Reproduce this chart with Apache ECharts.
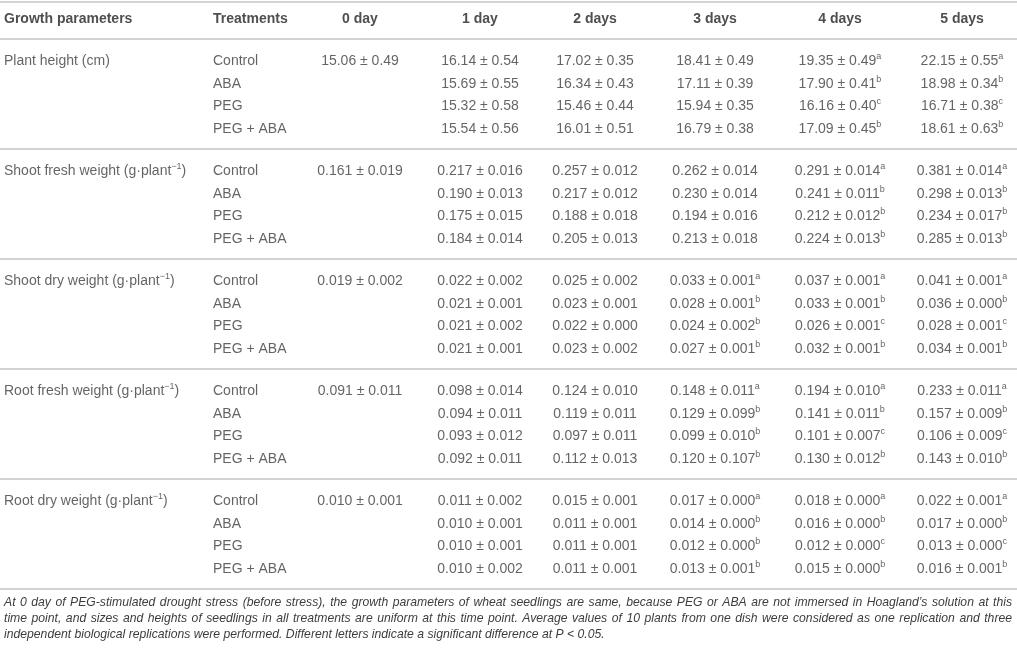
<!DOCTYPE html>
<html>
<head>
<meta charset="utf-8">
<script src="https://cdn.jsdelivr.net/npm/echarts@6/dist/echarts.min.js"></script>
<style>
  html, body { margin: 0; padding: 0; background: #fff; }
  #tbl { width: 1017px; height: 648px; }
</style>
</head>
<body>
<div id="tbl"></div>
<script>
// column headings
var HEADERS = ['Growth parameters', 'Treatments', '0 day', '1 day', '2 days', '3 days', '4 days', '5 days'];
var TREATMENTS = ['Control', 'ABA', 'PEG', 'PEG + ABA'];
var PARAM_NAMES = ['Plant height (cm)', 'Shoot fresh weight (g·plant', 'Shoot dry weight (g·plant', 'Root fresh weight (g·plant', 'Root dry weight (g·plant'];
var PARAM_SUP = ['', '−1', '−1', '−1', '−1'];
var DECIMALS = [2, 3, 3, 3, 3];

// 0 day (before stress), one value per parameter
var DAY0_MEAN = [15.06, 0.161, 0.019, 0.091, 0.010];
var DAY0_SD = [0.49, 0.019, 0.002, 0.011, 0.001];

// days 1..5, rows = Control, ABA, PEG, PEG + ABA
var HEIGHT_MEAN = [[16.14, 17.02, 18.41, 19.35, 22.15], [15.69, 16.34, 17.11, 17.90, 18.98], [15.32, 15.46, 15.94, 16.16, 16.71], [15.54, 16.01, 16.79, 17.09, 18.61]];
var HEIGHT_SD = [[0.54, 0.35, 0.49, 0.49, 0.55], [0.55, 0.43, 0.39, 0.41, 0.34], [0.58, 0.44, 0.35, 0.40, 0.38], [0.56, 0.51, 0.38, 0.45, 0.63]];
var HEIGHT_LETTER = [['', '', '', 'a', 'a'], ['', '', '', 'b', 'b'], ['', '', '', 'c', 'c'], ['', '', '', 'b', 'b']];

var SFW_MEAN = [[0.217, 0.257, 0.262, 0.291, 0.381], [0.190, 0.217, 0.230, 0.241, 0.298], [0.175, 0.188, 0.194, 0.212, 0.234], [0.184, 0.205, 0.213, 0.224, 0.285]];
var SFW_SD = [[0.016, 0.012, 0.014, 0.014, 0.014], [0.013, 0.012, 0.014, 0.011, 0.013], [0.015, 0.018, 0.016, 0.012, 0.017], [0.014, 0.013, 0.018, 0.013, 0.013]];
var SFW_LETTER = [['', '', '', 'a', 'a'], ['', '', '', 'b', 'b'], ['', '', '', 'b', 'b'], ['', '', '', 'b', 'b']];

var SDW_MEAN = [[0.022, 0.025, 0.033, 0.037, 0.041], [0.021, 0.023, 0.028, 0.033, 0.036], [0.021, 0.022, 0.024, 0.026, 0.028], [0.021, 0.023, 0.027, 0.032, 0.034]];
var SDW_SD = [[0.002, 0.002, 0.001, 0.001, 0.001], [0.001, 0.001, 0.001, 0.001, 0.000], [0.002, 0.000, 0.002, 0.001, 0.001], [0.001, 0.002, 0.001, 0.001, 0.001]];
var SDW_LETTER = [['', '', 'a', 'a', 'a'], ['', '', 'b', 'b', 'b'], ['', '', 'b', 'c', 'c'], ['', '', 'b', 'b', 'b']];

var RFW_MEAN = [[0.098, 0.124, 0.148, 0.194, 0.233], [0.094, 0.119, 0.129, 0.141, 0.157], [0.093, 0.097, 0.099, 0.101, 0.106], [0.092, 0.112, 0.120, 0.130, 0.143]];
var RFW_SD = [[0.014, 0.010, 0.011, 0.010, 0.011], [0.011, 0.011, 0.099, 0.011, 0.009], [0.012, 0.011, 0.010, 0.007, 0.009], [0.011, 0.013, 0.107, 0.012, 0.010]];
var RFW_LETTER = [['', '', 'a', 'a', 'a'], ['', '', 'b', 'b', 'b'], ['', '', 'b', 'c', 'c'], ['', '', 'b', 'b', 'b']];

var RDW_MEAN = [[0.011, 0.015, 0.017, 0.018, 0.022], [0.010, 0.011, 0.014, 0.016, 0.017], [0.010, 0.011, 0.012, 0.012, 0.013], [0.010, 0.011, 0.013, 0.015, 0.016]];
var RDW_SD = [[0.002, 0.001, 0.000, 0.000, 0.001], [0.001, 0.001, 0.000, 0.000, 0.000], [0.001, 0.001, 0.000, 0.000, 0.000], [0.002, 0.001, 0.001, 0.000, 0.001]];
var RDW_LETTER = [['', '', 'a', 'a', 'a'], ['', '', 'b', 'b', 'b'], ['', '', 'b', 'c', 'c'], ['', '', 'b', 'b', 'b']];

var NOTE_LINES = [
  'At 0 day of PEG-stimulated drought stress (before stress), the growth parameters of wheat seedlings are same, because PEG or ABA are not immersed in Hoagland’s solution at this',
  'time point, and sizes and heights of seedlings in all treatments are uniform at this time point. Average values of 10 plants from one dish were considered as one replication and three',
  'independent biological replications were performed. Different letters indicate a significant difference at P < 0.05.'
];

var GROUPS = [
  { mean: HEIGHT_MEAN, sd: HEIGHT_SD, letter: HEIGHT_LETTER },
  { mean: SFW_MEAN, sd: SFW_SD, letter: SFW_LETTER },
  { mean: SDW_MEAN, sd: SDW_SD, letter: SDW_LETTER },
  { mean: RFW_MEAN, sd: RFW_SD, letter: RFW_LETTER },
  { mean: RDW_MEAN, sd: RDW_SD, letter: RDW_LETTER }
];

// layout (page pixels, the axes run 0..1017 and 0..648)
var COL_X = [4, 213, 360, 480, 595, 715, 840, 962];
var HEAD_Y = 19;
var FIRST_RULE = 39, GROUP_H = 110, ROW0 = 22, ROW_STEP = 22.7;
var RULES = [2, 39, 149, 259, 369, 479, 589];
var FONT = 'Liberation Sans';
var TXT = '#3d3d3d';
var NOTE_FONT = 'italic 12.2px "Liberation Sans"';
var NOTE_LEFT = 4, NOTE_RIGHT = 1012, NOTE_TOP = 597, NOTE_STEP = 16;

function rowY(g, t) { return FIRST_RULE + GROUP_H * g + ROW0 + ROW_STEP * t; }
function cell(m, s, d, l) {
  var str = '{v|' + m.toFixed(d) + ' ± ' + s.toFixed(d) + '}';
  if (l) str += '{s|' + l + '}';
  return str;
}

var headerData = HEADERS.map(function (h, i) {
  return { value: [COL_X[i], HEAD_Y], txt: h, label: { align: i < 2 ? 'left' : 'center' } };
});
var leftData = [];
var numData = [];
GROUPS.forEach(function (grp, g) {
  var nm = '{v|' + PARAM_NAMES[g] + '}';
  if (PARAM_SUP[g]) nm += '{s|' + PARAM_SUP[g] + '}{v|)}';
  leftData.push({ value: [COL_X[0], rowY(g, 0)], txt: nm });
  numData.push({ value: [COL_X[2], rowY(g, 0)], txt: cell(DAY0_MEAN[g], DAY0_SD[g], DECIMALS[g], '') });
  TREATMENTS.forEach(function (tr, t) {
    leftData.push({ value: [COL_X[1], rowY(g, t)], txt: '{v|' + tr + '}' });
    for (var d = 0; d < 5; d++) {
      numData.push({
        value: [COL_X[3 + d], rowY(g, t)],
        txt: cell(grp.mean[t][d], grp.sd[t][d], DECIMALS[g], grp.letter[t][d])
      });
    }
  });
});

// footnote: the first lines are justified to the full width, like the source
var ctx = document.createElement('canvas').getContext('2d');
ctx.font = NOTE_FONT;
var noteEls = [];
NOTE_LINES.forEach(function (line, i) {
  var top = NOTE_TOP + i * NOTE_STEP;
  if (i === NOTE_LINES.length - 1) {
    noteEls.push({ type: 'text', left: NOTE_LEFT, top: top, style: { text: line, font: NOTE_FONT, fill: TXT } });
    return;
  }
  var words = line.split(' ');
  var widths = words.map(function (w) { return ctx.measureText(w).width; });
  var total = widths.reduce(function (a, b) { return a + b; }, 0);
  var gap = (NOTE_RIGHT - NOTE_LEFT - total) / (words.length - 1);
  var x = NOTE_LEFT;
  words.forEach(function (w, k) {
    noteEls.push({ type: 'text', x: x, y: top, style: { text: w, font: NOTE_FONT, fill: TXT, textBaseline: 'top' } });
    x += widths[k] + gap;
  });
});

var rich = {
  v: { fontFamily: FONT, fontSize: 14, color: TXT, lineHeight: 18 },
  s: { fontFamily: FONT, fontSize: 9, color: TXT, lineHeight: 10, verticalAlign: 'top' }
};

var chart = echarts.init(document.getElementById('tbl'), null, { renderer: 'canvas' });
chart.setOption({
  animation: false,
  grid: { left: 0, right: 0, top: 0, bottom: 0 },
  xAxis: { type: 'value', min: 0, max: 1017, show: false },
  yAxis: { type: 'value', min: 0, max: 648, inverse: true, show: false },
  graphic: noteEls,
  series: [
    {
      type: 'scatter', symbolSize: 0, silent: true, data: headerData,
      label: {
        show: true, position: 'inside', fontFamily: FONT, fontSize: 14, fontWeight: 'bold', color: '#222',
        formatter: function (p) { return p.data.txt; }
      },
      markLine: {
        silent: true, symbol: 'none', label: { show: false },
        lineStyle: { color: '#c4c4c4', width: 1.5, type: 'solid' },
        data: RULES.map(function (y) { return { yAxis: y }; })
      }
    },
    {
      type: 'scatter', symbolSize: 0, silent: true, data: leftData,
      label: {
        show: true, position: 'inside', align: 'left', rich: rich,
        formatter: function (p) { return p.data.txt; }
      }
    },
    {
      type: 'scatter', symbolSize: 0, silent: true, data: numData,
      label: {
        show: true, position: 'inside', align: 'center', rich: rich,
        formatter: function (p) { return p.data.txt; }
      }
    }
  ]
});
</script>
</body>
</html>
